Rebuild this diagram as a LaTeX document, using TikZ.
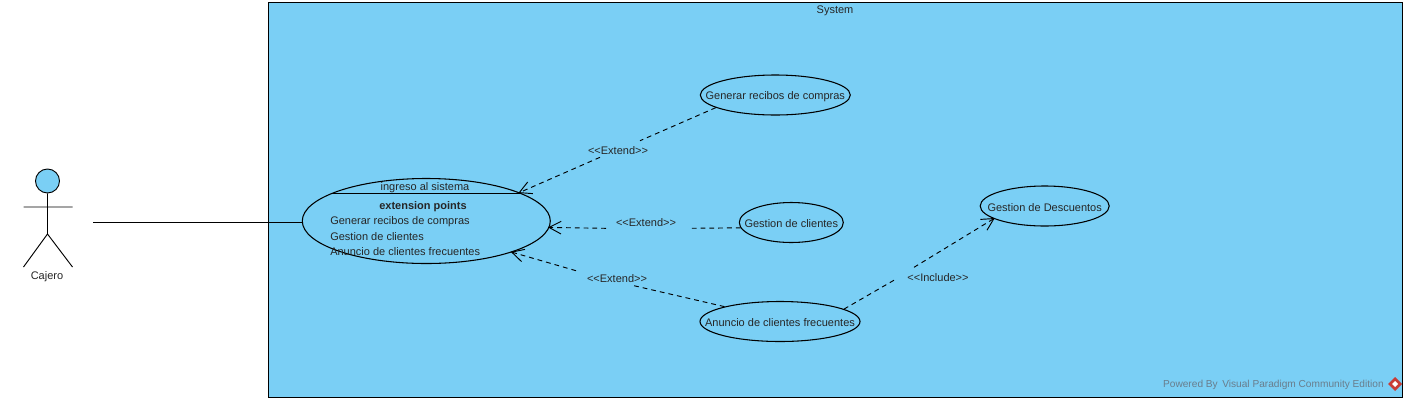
\documentclass[tikz,border=0pt]{standalone}
\usepackage{fontspec}
\setmainfont{Liberation Sans}
\usetikzlibrary{shapes.geometric,arrows.meta}
\definecolor{ucblue}{RGB}{122,207,245}
\definecolor{wmgray}{RGB}{105,125,140}
\definecolor{wmred}{RGB}{200,60,55}
\tikzset{
  x=0.75pt,y=-0.75pt,
  usecase/.style={draw=black,fill=ucblue,ellipse,inner sep=0pt,line width=0.8pt},
  lbl/.style={font=\fontsize{8.25}{10}\selectfont,inner sep=0pt,text=black!85},
  uctext/.style={lbl,yshift=-1pt},
  dep/.style={dash pattern=on 3.6pt off 3pt,line width=0.7pt},
  deparrow/.style={dep,shorten >=-1pt,-{Straight Barb[length=9pt,width=9.5pt,line width=0.7pt]}},
  solidline/.style={draw=black,line width=0.7pt},
}
\begin{document}
\begin{tikzpicture}
\useasboundingbox (0,0) rectangle (1407,401);
\fill[white] (0,0) rectangle (1407,401);
\node[draw=black,fill=ucblue,line width=0.7pt,minimum width=1134*0.75pt,minimum height=395*0.75pt,inner sep=0pt,anchor=north west] (system) at (268,2) {};
\node[lbl] (systemlabel) at (835,11) {System};
% actor
\node[circle,draw=black,fill=ucblue,line width=0.7pt,minimum size=24*0.75pt,inner sep=0pt] (head) at (47.5,181) {};
\coordinate (hip) at (47.5,234);
\coordinate (armL) at (23.5,207);
\coordinate (armR) at (72.5,207);
\coordinate (footL) at (23.5,267);
\coordinate (footR) at (72.5,267);
\draw[solidline] (head.south) -- (hip) (armL) -- (armR) (footL) -- (hip) -- (footR);
\node[lbl] (cajero) at (47,276.5) {Cajero};
% use cases
\node[usecase,minimum width=248*0.75pt,minimum height=85*0.75pt] (main) at (426.3,221) {};
\coordinate (sepL) at (331,193.5);
\coordinate (sepR) at (521,193.5);
\draw[line width=0.8pt] (sepL) -- (sepR);
\node[lbl] (maintitle) at (425,187.5) {ingreso al sistema};
\node[lbl,font=\fontsize{8.25}{10}\selectfont\bfseries] (ext) at (423,206.5) {extension points};
\node[lbl,anchor=west] (ep1) at (330,221.5) {Generar recibos de compras};
\node[lbl,anchor=west] (ep2) at (330,236.5) {Gestion de clientes};
\node[lbl,anchor=west] (ep3) at (330,251.5) {Anuncio de clientes frecuentes};
\node[usecase,minimum width=150*0.75pt,minimum height=40*0.75pt,label={[uctext,name=tgen]center:Generar recibos de compras}] (gen) at (775.3,95) {};
\node[usecase,minimum width=104*0.75pt,minimum height=40*0.75pt,label={[uctext,name=tges]center:Gestion de clientes}] (ges) at (791.3,222.5) {};
\node[usecase,minimum width=160*0.75pt,minimum height=40*0.75pt,label={[uctext,name=tanu]center:Anuncio de clientes frecuentes}] (anu) at (780,321.5) {};
\node[usecase,minimum width=129*0.75pt,minimum height=40*0.75pt,label={[uctext,name=tdes]center:Gestion de Descuentos}] (des) at (1044.7,206) {};
% connector labels
\node[lbl] (l1) at (618,151) {<{}<Extend>{}>};
\node[lbl] (l2) at (646,223) {<{}<Extend>{}>};
\node[lbl] (l3) at (617,279) {<{}<Extend>{}>};
\node[lbl] (l4) at (938,278) {<{}<Include>{}>};
% gaps
\coordinate (g1a) at (640,140.7);
\coordinate (g1b) at (600,157.3);
\coordinate (g2a) at (689,228.3);
\coordinate (g2b) at (606,228.3);
\coordinate (g3a) at (634,285.7);
\coordinate (g3b) at (576,270.7);
\coordinate (g4a) at (897.3,278.3);
\coordinate (g4b) at (914,267.3);
% connectors
\draw[dep] (gen.192.5) -- (g1a);
\draw[deparrow] (g1b) -- (main.17.7);
\draw[dep] (ges.186.7) -- (g2a);
\draw[deparrow] (g2b) -- (main.-3.4);
\draw[dep] (anu.165.8) -- (g3a);
\draw[deparrow] (g3b) -- (main.-20.8);
\draw[dep] (anu.11.2) -- (g4a);
\draw[deparrow] (g4b) -- (des.194.5);
\coordinate (free) at (93,222);
\draw[solidline] (free) -- (free -| main.west);
% watermark
\node[lbl,text=wmgray,anchor=east,font=\fontsize{7.6}{10}\selectfont] (wm) at (1384,385) {Powered By \,Visual Paradigm Community Edition};
\fill[wmred] (1395,377) -- (1402,384) -- (1395,391) -- (1388,384) -- cycle;
\fill[white] (1395,381) -- (1398,384) -- (1395,387) -- (1392,384) -- cycle;
\end{tikzpicture}
\end{document}
